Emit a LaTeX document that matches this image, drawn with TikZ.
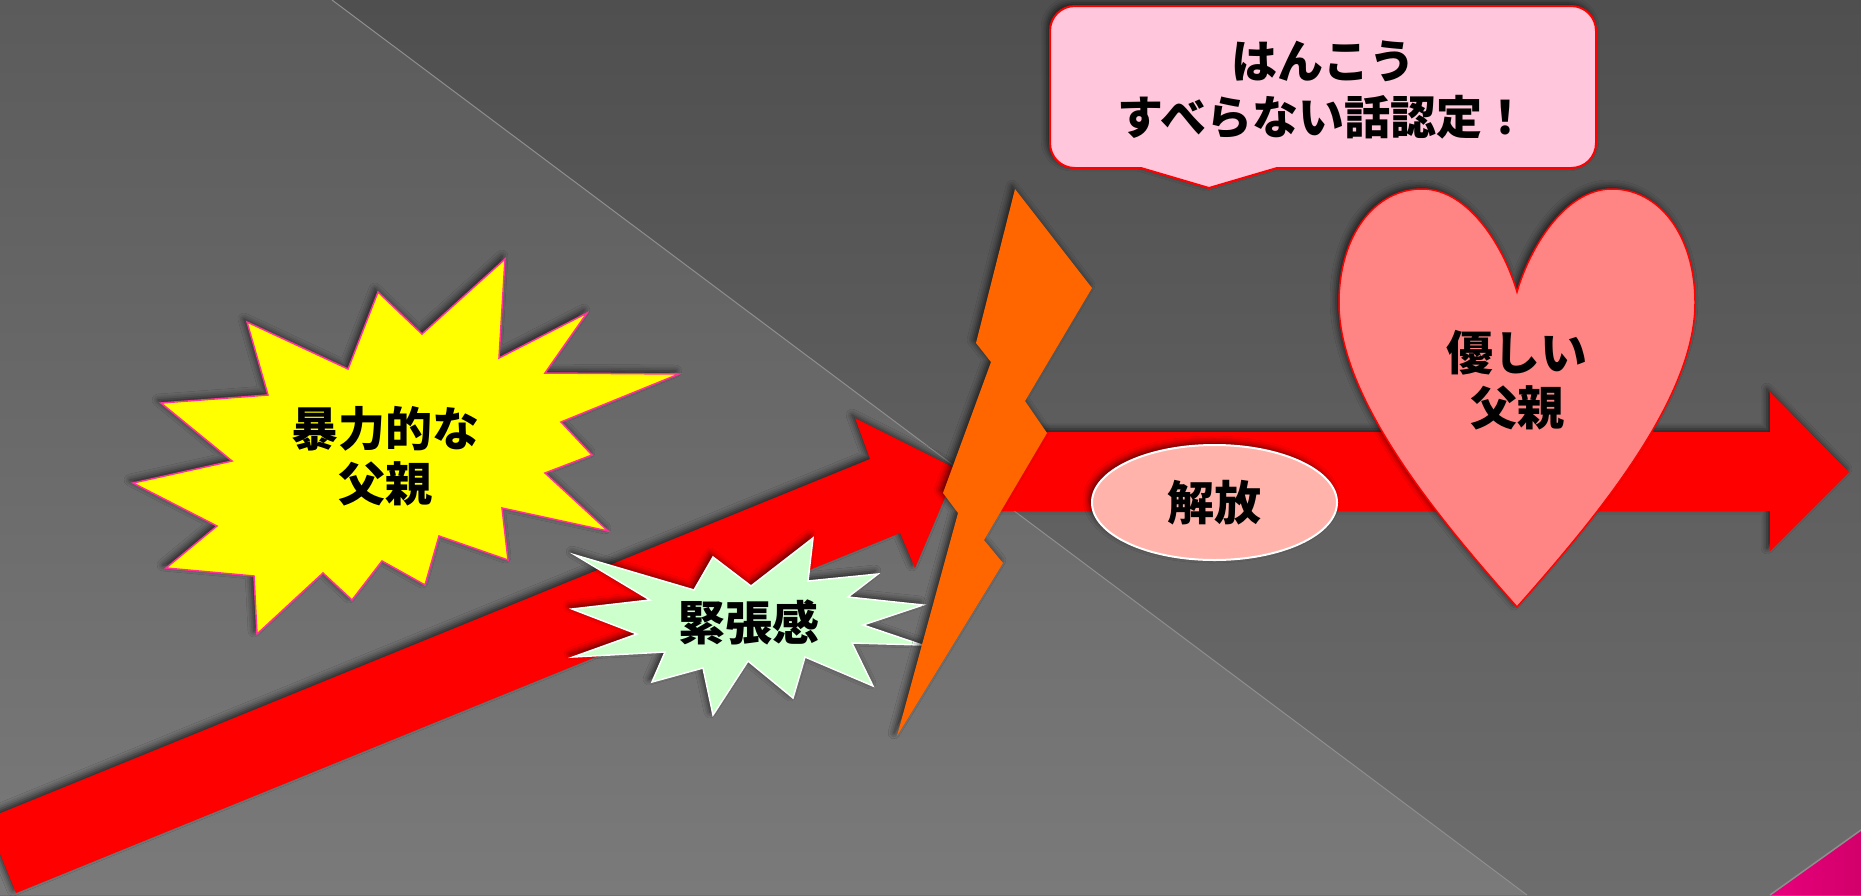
\documentclass[tikz,border=0pt]{standalone}
\usepackage{fontspec}
\newfontfamily\cjk{Noto Sans CJK JP}
\usetikzlibrary{shapes.geometric,shadows.blur}
\definecolor{bgRtop}{HTML}{4F4F4F}
\definecolor{bgRbot}{HTML}{6D6D6D}
\definecolor{bgLtop}{HTML}{5B5B5B}
\definecolor{bgLbot}{HTML}{7A7A7A}
\definecolor{arrowred}{HTML}{FF0000}
\definecolor{boltorange}{HTML}{FF6600}
\definecolor{staryellow}{HTML}{FFFF00}
\definecolor{starpink}{HTML}{FF3399}
\definecolor{stargreen}{HTML}{CCFFCC}
\definecolor{ovalfill}{HTML}{FFB3AB}
\definecolor{heartfill}{HTML}{FF8585}
\definecolor{callfill}{HTML}{FFC6DC}
\definecolor{magentaA}{HTML}{E8007C}
\definecolor{magentaB}{HTML}{D2006A}
\definecolor{seam}{HTML}{8E8E8E}
\begin{document}
\begin{tikzpicture}[x=1pt,y=-1pt,
  sh/.style={blur shadow={shadow xshift=-3pt,shadow yshift=3pt,shadow blur radius=6pt,shadow opacity=65}},
  txt/.style={font=\cjk\bfseries\fontsize{47}{55}\selectfont,align=center,inner sep=0pt,text=black},
  arrowshape/.style={fill=arrowred,sh},
  boltshape/.style={fill=boltorange,sh},
  bigstar/.style={fill=staryellow,draw=starpink,line width=1.5pt,sh},
  smallstar/.style={fill=stargreen,draw=white,line width=1.5pt,sh},
  oval/.style={ellipse,fill=ovalfill,draw=white,line width=2pt,minimum width=245pt,minimum height=115pt,inner sep=0pt,sh},
  heartshape/.style={fill=heartfill,draw=arrowred,line width=1.5pt,sh},
  calloutshape/.style={fill=callfill,draw=arrowred,line width=2pt,sh}]
\useasboundingbox (0,0) rectangle (1861,895);
% background
\shade[top color=bgRtop,bottom color=bgRbot] (0,0) rectangle (1861,895);
\shade[top color=bgLtop,bottom color=bgLbot] (0,0) -- (332,0) -- (1527,895) -- (0,895) -- cycle;
\draw[seam,line width=1pt] (332,0) -- (1527,895);
\shade[left color=magentaA,right color=magentaB] (1770,895) -- (1861,830) -- (1861,895) -- cycle;
\draw[seam,line width=1.5pt] (1770,895) -- (1861,830);
% left diagonal arrow
\fill[arrowshape] (16,893) -- (900,533) -- (915,568) -- (957,469) -- (855,418) -- (870,459) -- (-14,819) -- cycle;
% right horizontal arrow
\fill[arrowshape] (975,432) -- (1770,432) -- (1770,392) -- (1849,472) -- (1770,551) -- (1770,511) -- (975,511) -- cycle;
% yellow star
\filldraw[bigstar] (505,259) -- (499,358) -- (587,313) -- (545,373) -- (679,374) -- (561,422) -- (592,455) -- (545,473) -- (608,531) -- (502,508) -- (508,560) -- (439,536) -- (425,585) -- (382,561) -- (352,600) -- (323,573) -- (257,634) -- (254,576) -- (166,568) -- (217,526) -- (133,483) -- (232,461) -- (161,403) -- (268,395) -- (247,322) -- (348,369) -- (378,292) -- (422,334) -- cycle;
% green star
\filldraw[smallstar] (813,538) -- (808,581) -- (878,574) -- (848,597) -- (923,605) -- (863,625) -- (922,645) -- (852,643) -- (873,686) -- (805,657) -- (793,698) -- (748,661) -- (713,715) -- (703,668) -- (652,682) -- (665,652) -- (573,657) -- (637,634) -- (572,609) -- (650,600) -- (575,555) -- (694,590) -- (713,557) -- (751,586) -- cycle;
% lightning bolt
\fill[boltshape] (1015,189) -- (1092,288) -- (1025,401) -- (1047,433) -- (984,540) -- (1003,563) -- (897,736) -- (958,513) -- (943,493) -- (991,362) -- (976,343) -- cycle;
% heart
\filldraw[heartshape] (1517,292) .. controls (1505,250) and (1470,189) .. (1422,189) .. controls (1375,189) and (1339,235) .. (1339,303) .. controls (1339,400) and (1440,520) .. (1517,607) .. controls (1594,520) and (1695,400) .. (1695,303) .. controls (1695,235) and (1659,189) .. (1612,189) .. controls (1564,189) and (1529,250) .. (1517,292) -- cycle;
% callout
\filldraw[calloutshape] (1075,6) -- (1571,6) .. controls (1585,6) and (1596,17) .. (1596,31) -- (1596,143) .. controls (1596,157) and (1585,168) .. (1571,168) -- (1277,168) -- (1209,188) -- (1141,168) -- (1075,168) .. controls (1061,168) and (1050,157) .. (1050,143) -- (1050,31) .. controls (1050,17) and (1061,6) .. (1075,6) -- cycle;
% texts
\node[oval] (kaiho) at (1214.5,502.5) {};
\node[txt] (kaihotext) at (1214.5,503) {解放};
\node[txt] (violent) at (385,456) {暴力的な\\父親};
\node[txt] (tension) at (749,622) {緊張感};
\node[txt] (gentle) at (1517,380) {優しい\\父親};
\node[txt,font=\cjk\bfseries\fontsize{46}{56}\selectfont] (callouttext) at (1323,90) {はんこう\\すべらない話認定！};
\end{tikzpicture}
\end{document}
